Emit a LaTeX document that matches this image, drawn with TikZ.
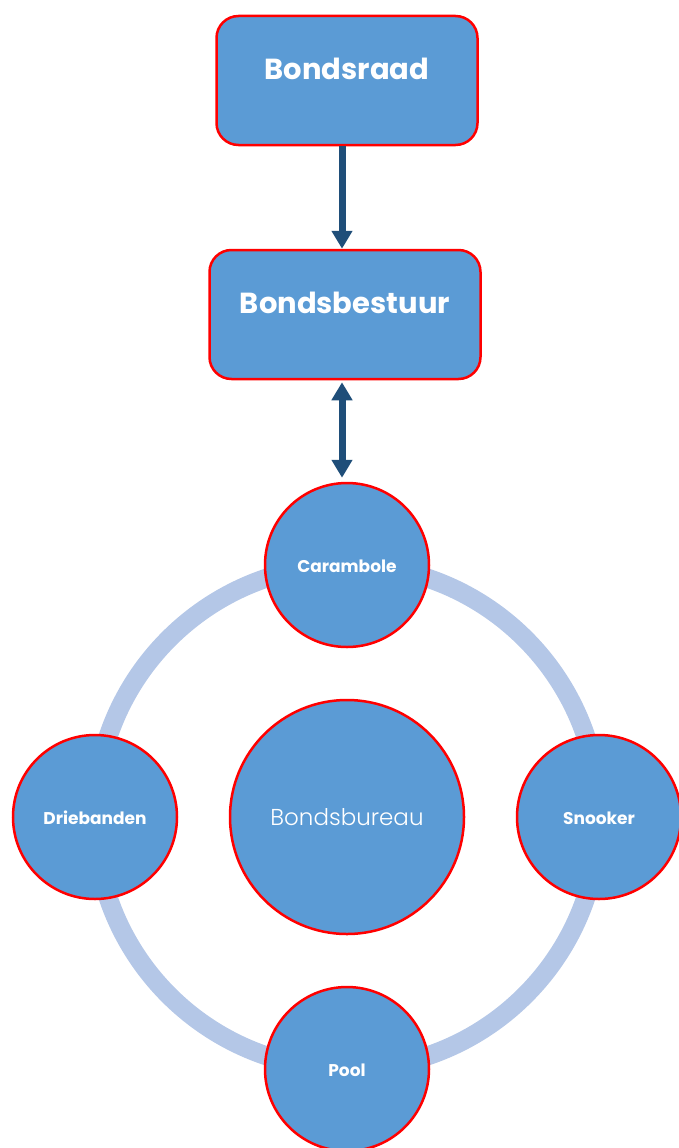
\documentclass[tikz,border=0pt]{standalone}
\usepackage{fontspec}
\setmainfont{Poppins}
\newfontfamily\lightfont{Poppins}[UprightFont={* Light}]
\usetikzlibrary{arrows.meta}

\definecolor{boxblue}{HTML}{5B9BD5}
\definecolor{ringblue}{HTML}{B4C7E7}
\definecolor{arrowblue}{HTML}{1F4E79}

\tikzset{
  orgbox/.style={draw=red,line width=2.5pt,fill=boxblue,rounded corners=22pt,
    minimum width=#1,minimum height=129pt,inner sep=0pt},
  boxlbl/.style={text=white,font=\bfseries\fontsize{29}{30}\selectfont,anchor=base},
  club/.style={circle,draw=red,line width=2.5pt,fill=boxblue,minimum size=#1,inner sep=0pt},
  clublbl/.style={text=white,font=\bfseries\fontsize{17}{18}\selectfont,anchor=base},
  link/.style={arrowblue,line width=7pt},
}

\begin{document}
\begin{tikzpicture}[>={Triangle[width=20pt,length=18pt]},x=1pt,y=-1pt]
  \useasboundingbox (0,0) rectangle (679,1148);
  \clip (0,0) rectangle (679,1148);
  % draw the boxes
  \node[orgbox=261pt] (raad) at (347,80.5) {};
  \node[boxlbl] at (347,80) {Bondsraad};
  \node[orgbox=271pt] (bestuur) at (345,314.5) {};
  \node[boxlbl] at (345,313) {Bondsbestuur};
  % draw the ring and the clubs
  \draw[ringblue,line width=19pt] (347,817) circle (252);
  \node[club=234pt] (bureau) at (347,817) {};
  \node[text=white,font=\lightfont\fontsize{23}{25}\selectfont,anchor=base] at (347,825) {Bondsbureau};
  \foreach \name/\x/\y/\lbl in {carambole/347/565/Carambole,snooker/599/817/Snooker,
      pool/347/1069/Pool,driebanden/95/817/Driebanden}
  {
    \node[club=164pt] (\name) at (\x,\y) {};
    \node[clublbl] at (\x,\y+7) {\lbl};
  }
  % draw the arrows
  \coordinate (ax) at (342,0);
  \draw[link,->] (raad.south -| ax) -- (bestuur.north -| ax);
  \draw[link,<->] ([yshift=-2pt]bestuur.south -| ax) -- ([yshift=4pt]carambole.north -| ax);
\end{tikzpicture}
\end{document}
